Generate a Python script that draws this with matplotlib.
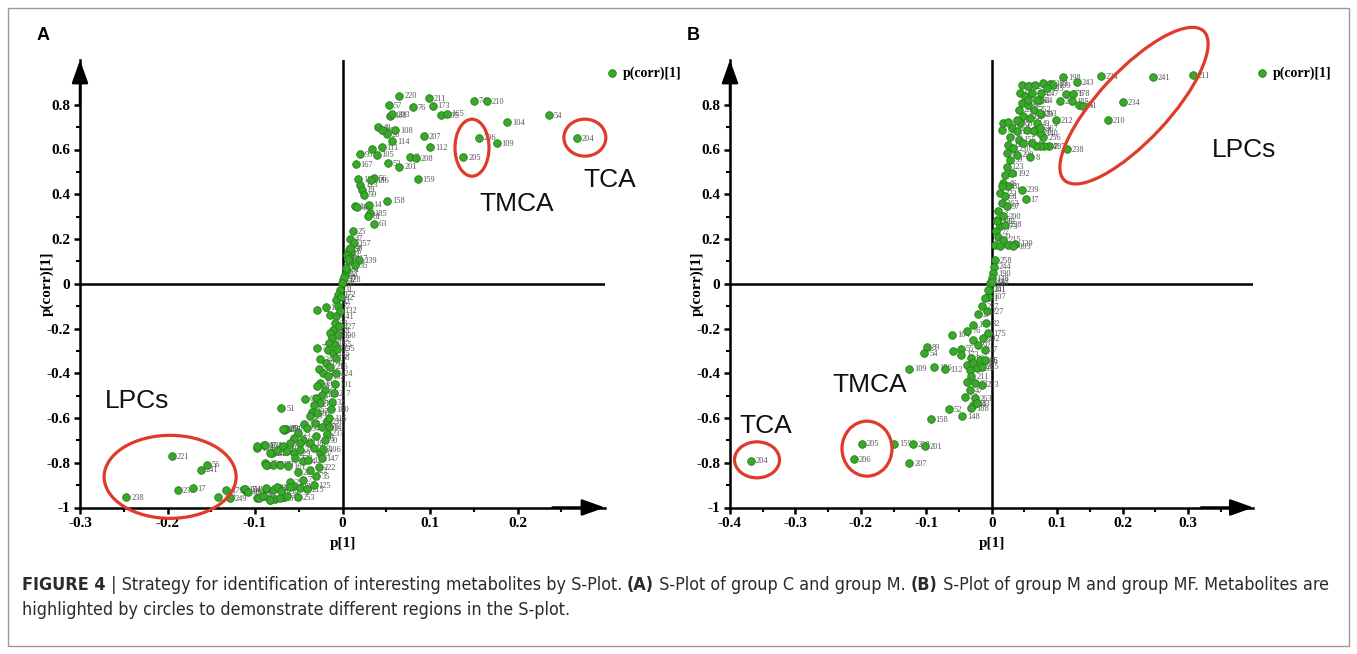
import numpy as np
import matplotlib
matplotlib.use('Agg')
import matplotlib.pyplot as plt
from matplotlib.patches import Ellipse, Rectangle
from matplotlib.transforms import ScaledTranslation

W, H = 1357, 654

# ---- panel A (group C vs group M): (p[1], p(corr)[1], id) ----
a_upper = [
    (0.065, 0.840, '220'), (0.099, 0.830, '211'), (0.103, 0.796, '173'), (0.053, 0.799, '57'),
    (0.080, 0.788, '76'), (0.150, 0.818, '74'), (0.165, 0.815, '210'), (0.236, 0.752, '54'),
    (0.188, 0.723, '104'), (0.176, 0.627, '109'), (0.156, 0.653, '206'), (0.138, 0.565, '205'),
    (0.268, 0.651, '204'), (0.113, 0.755, '185'), (0.119, 0.760, '165'), (0.054, 0.751, '188'),
    (0.057, 0.757, '203'), (0.040, 0.699, '48'), (0.060, 0.688, '108'), (0.049, 0.681, '97'),
    (0.051, 0.670, '26'), (0.045, 0.688, '129'), (0.057, 0.638, '114'), (0.093, 0.661, '207'),
    (0.100, 0.611, '112'), (0.045, 0.611, '111'), (0.034, 0.603, '73'), (0.020, 0.580, '95'),
    (0.039, 0.577, '105'), (0.015, 0.535, '167'), (0.052, 0.538, '53'), (0.065, 0.524, '201'),
    (0.077, 0.568, '2'), (0.084, 0.562, '208'), (0.086, 0.468, '159'), (0.051, 0.372, '158'),
    (0.018, 0.468, '187'), (0.036, 0.472, '56'), (0.033, 0.462, '186'), (0.020, 0.443, '113'),
    (0.022, 0.420, '19'), (0.024, 0.398, '99'), (0.030, 0.353, '14'), (0.014, 0.346, '146'),
    (0.016, 0.343, '183'), (0.031, 0.316, '185'), (0.029, 0.301, '81'), (0.036, 0.268, '63'),
    (0.012, 0.234, '25'), (0.009, 0.201, '47'), (0.013, 0.182, '157'), (0.007, 0.152, '67'),
    (0.010, 0.144, '5'), (0.005, 0.130, '42'), (0.009, 0.115, '117'), (0.007, 0.100, '79'),
    (0.019, 0.107, '139'), (0.014, 0.082, '35'), (0.005, 0.063, '91'), (0.003, 0.040, '44'),
    (0.001, 0.018, '128'), (0.002, 0.030, '41'), (0.004, 0.070, '72'), (0.006, 0.110, '43'),
    (0.008, 0.160, '98'),
]
a_lower = [
    (-0.001, 0.003, '88'), (-0.003, -0.027, '31'), (-0.005, -0.049, '172'), (-0.007, -0.072, '65'),
    (-0.029, -0.116, '11'), (-0.019, -0.104, '119'), (-0.014, -0.139, '93'), (-0.005, -0.101, '77'),
    (-0.007, -0.146, '141'), (-0.009, -0.176, '38'), (-0.011, -0.206, '228'), (-0.014, -0.218, '69'),
    (-0.012, -0.243, '102'), (-0.015, -0.265, '46'), (-0.009, -0.272, '255'), (-0.017, -0.295, '7'),
    (-0.011, -0.310, '135'), (-0.029, -0.285, '71'), (-0.026, -0.337, '24'), (-0.027, -0.381, '84'),
    (-0.019, -0.355, '176'), (-0.014, -0.370, '216'), (-0.022, -0.399, '3'), (-0.017, -0.414, '152'),
    (-0.026, -0.444, '192'), (-0.029, -0.459, '40'), (-0.020, -0.474, '61'), (-0.024, -0.496, '126'),
    (-0.030, -0.511, '82'), (-0.026, -0.533, '143'), (-0.043, -0.514, '68'), (-0.033, -0.541, '22'),
    (-0.035, -0.571, '197'), (-0.029, -0.578, '86'), (-0.037, -0.593, '29'), (-0.044, -0.626, '256'),
    (-0.041, -0.645, '94'), (-0.031, -0.623, '131'), (-0.024, -0.638, '166'), (-0.018, -0.615, '236'),
    (-0.065, -0.648, '150'), (-0.067, -0.652, '235'), (-0.051, -0.667, '25'), (-0.056, -0.690, '10'),
    (-0.045, -0.697, '60'), (-0.037, -0.712, '18'), (-0.030, -0.682, '120'), (-0.033, -0.734, '213'),
    (-0.026, -0.757, '87'), (-0.049, -0.712, '28'), (-0.060, -0.712, '9'), (-0.070, -0.556, '51'),
    (-0.098, -0.734, '164'), (-0.090, -0.720, '170'), (-0.081, -0.757, '243'), (-0.075, -0.742, '244'),
    (-0.068, -0.727, '16'), (-0.064, -0.749, '92'), (-0.056, -0.757, '229'), (-0.049, -0.742, '37'),
    (-0.089, -0.801, '15'), (-0.086, -0.809, '171'), (-0.079, -0.809, '142'), (-0.071, -0.809, '89'),
    (-0.062, -0.816, '161'), (-0.054, -0.779, '133'), (-0.045, -0.794, '64'), (-0.039, -0.787, '127'),
    (-0.037, -0.834, '122'), (-0.051, -0.843, '209'), (-0.045, -0.876, '75'), (-0.060, -0.886, '23'),
    (-0.056, -0.906, '198'), (-0.049, -0.913, '34'), (-0.041, -0.918, '215'), (-0.073, -0.913, '219'),
    (-0.079, -0.921, '196'), (-0.087, -0.918, '85'), (-0.113, -0.918, '174'), (-0.110, -0.928, '18'),
    (-0.098, -0.958, '21'), (-0.092, -0.950, '45'), (-0.083, -0.965, '251'), (-0.077, -0.962, '62'),
    (-0.071, -0.958, '151'), (-0.064, -0.950, '49'), (-0.051, -0.953, '253'),
    (-0.003, -0.120, '132'), (-0.004, -0.190, '227'), (-0.005, -0.230, '190'), (-0.006, -0.290, '195'),
    (-0.007, -0.330, '58'), (-0.008, -0.400, '224'), (-0.009, -0.450, '101'), (-0.010, -0.490, '217'),
    (-0.012, -0.530, '32'), (-0.013, -0.560, '180'), (-0.015, -0.600, '116'), (-0.016, -0.640, '248'),
    (-0.018, -0.670, '237'), (-0.020, -0.700, '90'), (-0.022, -0.740, '106'), (-0.024, -0.780, '147'),
    (-0.027, -0.820, '222'), (-0.030, -0.860, '35'), (-0.033, -0.900, '125'), (-0.002, -0.060, '12'),
]
a_left = [
    (-0.195, -0.769, '221'), (-0.155, -0.809, '56'), (-0.162, -0.831, '241'), (-0.188, -0.921, '236'),
    (-0.171, -0.913, '17'), (-0.247, -0.953, '238'), (-0.142, -0.953, '149'), (-0.133, -0.921, '179'),
    (-0.129, -0.958, '249'), (-0.111, -0.918, '118'), (-0.108, -0.931, '194'), (-0.096, -0.958, '50'),
    (-0.087, -0.913, '226'), (-0.075, -0.909, '200'), (-0.070, -0.928, '254'), (-0.060, -0.909, '30'),
    (-0.083, -0.965, '239'), (-0.091, -0.947, '59'), (-0.098, -0.727, '110'), (-0.089, -0.720, '164'),
    (-0.087, -0.809, '145'), (-0.083, -0.757, '242'), (-0.066, -0.647, '25'), (-0.068, -0.649, '156'),
]

# ---- panel B (group M vs group MF) ----
b_upper = [
    (0.307, 0.931, '211'), (0.246, 0.924, '241'), (0.167, 0.927, '224'), (0.201, 0.812, '234'),
    (0.178, 0.730, '210'), (0.115, 0.602, '238'), (0.109, 0.924, '198'), (0.130, 0.900, '243'),
    (0.114, 0.849, '176'), (0.124, 0.849, '178'), (0.104, 0.815, '21'), (0.122, 0.815, '185'),
    (0.134, 0.800, '54'), (0.140, 0.796, '51'), (0.098, 0.730, '212'), (0.059, 0.565, '8'),
    (0.046, 0.420, '239'), (0.052, 0.378, '17'), (0.036, 0.179, '139'), (0.075, 0.758, '29'),
    (0.074, 0.822, '24'), (0.079, 0.655, '256'), (0.087, 0.614, '287'), (0.080, 0.614, '94'),
    (0.074, 0.614, '187'), (0.068, 0.616, '33'), (0.066, 0.688, '263'),
    (0.047, 0.889, '59'), (0.056, 0.882, '72'), (0.066, 0.889, '137'), (0.079, 0.897, '85'),
    (0.089, 0.894, '183'), (0.094, 0.889, '189'),
]
b_blob = [
    (0.043, 0.852, '91'), (0.051, 0.837, '4'), (0.061, 0.852, '124'), (0.069, 0.822, '66'),
    (0.046, 0.808, '150'), (0.056, 0.800, '82'), (0.041, 0.778, '28'), (0.064, 0.778, '252'),
    (0.074, 0.763, '203'), (0.048, 0.748, '12'), (0.059, 0.740, '99'), (0.043, 0.718, '68'),
    (0.018, 0.718, '14'), (0.025, 0.725, '40'), (0.015, 0.688, '76'), (0.031, 0.696, '162'),
    (0.038, 0.681, '115'), (0.054, 0.688, '250'), (0.064, 0.681, '227'), (0.074, 0.673, '140'),
    (0.028, 0.658, '36'), (0.041, 0.644, '155'), (0.048, 0.629, '6'), (0.061, 0.629, '48'),
    (0.025, 0.621, '120'), (0.033, 0.606, '230'), (0.023, 0.584, '62'), (0.028, 0.554, '39'),
    (0.038, 0.577, '209'), (0.023, 0.524, '123'), (0.020, 0.487, '70'), (0.031, 0.495, '192'),
    (0.018, 0.450, '46'), (0.025, 0.435, '81'), (0.013, 0.405, '222'), (0.020, 0.390, '31'),
    (0.015, 0.361, '163'), (0.023, 0.346, '97'), (0.010, 0.323, '3'), (0.018, 0.301, '200'),
    (0.008, 0.286, '15'), (0.013, 0.256, '173'), (0.020, 0.264, '228'), (0.007, 0.234, '77'),
    (0.010, 0.211, '20'), (0.018, 0.197, '215'), (0.005, 0.174, '132'), (0.013, 0.167, '45'),
    (0.025, 0.174, '95'), (0.033, 0.167, '103'), (0.008, 0.279, '180'), (0.015, 0.435, '74'),
    (0.038, 0.733, '114'), (0.069, 0.718, '49'), (0.074, 0.696, '167'), (0.056, 0.822, '18'),
    (0.076, 0.852, '247'), (0.084, 0.875, '195'),
    (0.005, 0.107, '258'), (0.003, 0.077, '244'), (0.002, 0.048, '190'), (0.000, 0.025, '148'),
    (-0.002, 0.003, '146'), (-0.004, -0.027, '201'), (-0.005, -0.057, '107'),
]
b_lower = [
    (-0.368, -0.790, '204'), (-0.198, -0.715, '205'), (-0.211, -0.784, '206'), (-0.149, -0.715, '159'),
    (-0.121, -0.716, '208'), (-0.102, -0.727, '201'), (-0.126, -0.801, '207'), (-0.093, -0.605, '158'),
    (-0.066, -0.560, '52'), (-0.045, -0.593, '148'), (-0.126, -0.380, '109'), (-0.088, -0.372, '186'),
    (-0.071, -0.381, '112'), (-0.099, -0.283, '89'), (-0.103, -0.310, '54'), (-0.060, -0.228, '104'),
    (-0.047, -0.290, '55'), (-0.059, -0.302, '57'), (-0.047, -0.317, '173'), (-0.037, -0.209, '76'),
    (-0.028, -0.183, '119'), (-0.021, -0.135, '27'), (-0.015, -0.101, '237'), (-0.010, -0.064, '11'),
    (-0.005, -0.027, '141'), (0.000, 0.010, '143'), (-0.028, -0.250, '165'), (-0.021, -0.273, '92'),
    (-0.013, -0.243, '202'), (-0.010, -0.295, '37'), (-0.031, -0.332, '93'), (-0.038, -0.362, '113'),
    (-0.028, -0.354, '136'), (-0.018, -0.340, '166'), (-0.033, -0.384, '16'), (-0.023, -0.377, '235'),
    (-0.015, -0.370, '245'), (-0.031, -0.414, '211'), (-0.038, -0.437, '9'), (-0.026, -0.444, '63'),
    (-0.015, -0.451, '253'), (-0.033, -0.474, '47'), (-0.041, -0.504, '53'), (-0.026, -0.511, '263'),
    (-0.028, -0.541, '44'), (-0.031, -0.556, '188'), (-0.023, -0.533, '83'), (-0.007, -0.124, '227'),
    (-0.008, -0.176, '32'), (-0.005, -0.220, '175'), (-0.010, -0.340, '86'),
]

caption_1 = [('FIGURE 4', True), (' | Strategy for identification of interesting metabolites by S-Plot. ', False),
             ('(A)', True), (' S-Plot of group C and group M. ', False), ('(B)', True),
             (' S-Plot of group M and group MF. Metabolites are', False)]
caption_2 = [('highlighted by circles to demonstrate different regions in the S-plot.', False)]

GREEN = '#3aa82a'
EDGE = '#23801a'
RED = '#e03a2a'
SERIF = 'Liberation Serif'
SANS = 'Liberation Sans'

fig = plt.figure(figsize=(W / 100, H / 100), dpi=100)


def fx(px):
    return px / W


def fy(py):
    return 1 - py / H


def ring(ax, cx, cy, w, h, ang=0):
    # circle drawn in pixel size around a data-space centre
    tr = fig.dpi_scale_trans + ScaledTranslation(cx, cy, ax.transData)
    ax.add_patch(Ellipse((0, 0), w / 100, h / 100, angle=ang, transform=tr,
                         fill=False, ec=RED, lw=2.3, zorder=6, clip_on=False))


def s_plot(ax, pts, xlim, xmajor, xminor, legend_px):
    x = [p[0] for p in pts]
    y = [p[1] for p in pts]
    ax.set_xlim(xlim)
    ax.set_ylim(-1, 1.0)
    for s in ['top', 'right']:
        ax.spines[s].set_visible(False)
    for s in ['left', 'bottom']:
        ax.spines[s].set_linewidth(1.8)
    ax.axhline(0, color='k', lw=1.8, zorder=1)
    ax.axvline(0, color='k', lw=1.8, zorder=1)
    sc = ax.scatter(x, y, s=30, c=GREEN, edgecolors=EDGE, linewidths=0.6, zorder=3)
    for xi, yi, lab in pts:
        ax.annotate(lab, (xi, yi), xytext=(3.5, -0.5), textcoords='offset points',
                    fontsize=6, color='#555555', family=SERIF, va='center', zorder=2)

    fmt = plt.FuncFormatter(lambda v, p: f'{v:g}')
    ax.set_xticks(xmajor)
    ax.set_xticks(xminor, minor=True)
    ax.set_yticks([-1, -0.8, -0.6, -0.4, -0.2, 0, 0.2, 0.4, 0.6, 0.8])
    ax.set_yticks([-0.9, -0.7, -0.5, -0.3, -0.1, 0.1, 0.3, 0.5, 0.7], minor=True)
    ax.xaxis.set_major_formatter(fmt)
    ax.yaxis.set_major_formatter(fmt)
    ax.tick_params(which='major', direction='out', length=4, width=1.8, labelsize=11, pad=3)
    ax.tick_params(which='minor', direction='out', length=3, width=1.5)
    for t in ax.get_xticklabels() + ax.get_yticklabels():
        t.set_family(SERIF)
        t.set_fontweight('bold')

    arrow = dict(arrowstyle='-|>,head_length=1.4,head_width=0.5', color='k', lw=1.8,
                 shrinkA=0, shrinkB=0, mutation_scale=10)
    ax.annotate('', xy=(0, 1.0), xycoords='axes fraction', xytext=(0, 0.9),
                textcoords='axes fraction', arrowprops=arrow, annotation_clip=False)
    ax.annotate('', xy=(1.0, 0), xycoords='axes fraction', xytext=(0.9, 0),
                textcoords='axes fraction', arrowprops=arrow, annotation_clip=False)

    ax_w = ax.get_position().width * W
    ax.text(-33 / ax_w, 0.5, 'p(corr)[1]', transform=ax.transAxes, rotation=90,
            ha='center', va='center', fontsize=11, fontweight='bold', family=SERIF)
    ax.text(0, -36 / 447.5, 'p[1]', transform=ax.get_xaxis_transform(),
            ha='center', va='center', fontsize=11, fontweight='bold', family=SERIF)

    ax.legend([sc], ['p(corr)[1]'], loc='center left', frameon=False,
              bbox_to_anchor=(fx(legend_px[0]), fy(legend_px[1])), bbox_transform=fig.transFigure,
              borderpad=0, borderaxespad=0, handlelength=1.0, handletextpad=0.3,
              prop=dict(family=SERIF, weight='bold', size=10))


ax_a = fig.add_axes([fx(80), fy(507.5), 525 / W, 447.5 / H])
ax_b = fig.add_axes([fx(730), fy(507.5), 523.4 / W, 447.5 / H])

s_plot(ax_a, a_upper + a_lower + a_left, (-0.3, 0.3), [-0.3, -0.2, -0.1, 0, 0.1, 0.2],
       [-0.25, -0.15, -0.05, 0.05, 0.15, 0.25], (605, 73))
s_plot(ax_b, b_upper + b_blob + b_lower, (-0.4, 0.4), [-0.4, -0.3, -0.2, -0.1, 0, 0.1, 0.2, 0.3],
       [-0.35, -0.25, -0.15, -0.05, 0.05, 0.15, 0.25, 0.35], (1255, 73))

# highlighted regions
ring(ax_a, -0.197, -0.863, 132, 83)
ring(ax_a, 0.148, 0.608, 34, 57)
ring(ax_a, 0.277, 0.653, 42, 37)
ring(ax_b, 0.2175, 0.796, 204, 70, 47)
ring(ax_b, -0.3587, -0.787, 45, 36)
ring(ax_b, -0.1906, -0.737, 50, 55)

note = dict(fontsize=19, family=SANS, color='#111111', ha='left', va='center', zorder=7)
ax_a.text(-0.271, -0.523, 'LPCs', **note)
ax_a.text(0.157, 0.358, 'TMCA', **note)
ax_a.text(0.275, 0.465, 'TCA', **note)
ax_b.text(0.337, 0.599, 'LPCs', **note)
ax_b.text(-0.244, -0.451, 'TMCA', **note)
ax_b.text(-0.385, -0.635, 'TCA', **note)

fig.text(fx(37), fy(36), 'A', fontsize=13, fontweight='bold', family=SANS, va='center')
fig.text(fx(687), fy(36), 'B', fontsize=13, fontweight='bold', family=SANS, va='center')

# outer frame
fig.patches.append(Rectangle((fx(8), fy(646)), (1349 - 8) / W, (646 - 8) / H,
                             transform=fig.transFigure, fill=False, ec='#9a9a9a', lw=1))

# caption, sized so the first line spans the frame width
renderer = fig.canvas.get_renderer()
CAP_FONT = ['DejaVu Sans']


def caption_line(pieces, x_px, y_px, size):
    x = x_px
    arts = []
    for txt, bold in pieces:
        t = fig.text(fx(x), fy(y_px), txt, fontsize=size, fontweight='bold' if bold else 'normal',
                     fontstretch='condensed', family=CAP_FONT, color='#2b2b2b', va='baseline')
        x += t.get_window_extent(renderer).width
        arts.append(t)
    return x - x_px, arts


width, arts = caption_line(caption_1, 22, 590, 10)
for t in arts:
    t.remove()
size = 10 * 1306 / width
caption_line(caption_1, 22, 590, size)
caption_line(caption_2, 22, 615, size)

fig.savefig('out.png', dpi=100)
